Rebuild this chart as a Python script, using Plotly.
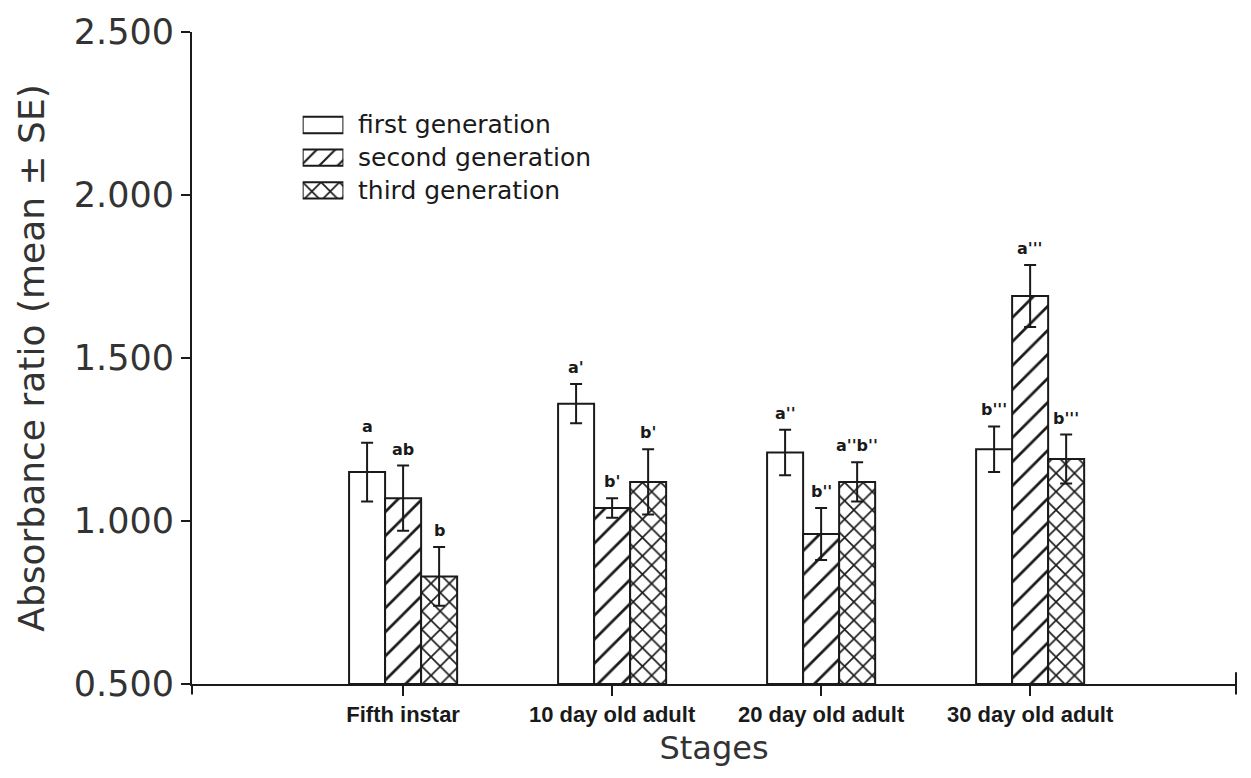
import plotly.graph_objects as go

# Developmental stages on the x axis
stages = ["Fifth instar", "10 day old adult", "20 day old adult", "30 day old adult"]

# Mean absorbance ratio and standard error per generation
first_gen = [1.15, 1.36, 1.21, 1.22]
first_se = [0.09, 0.06, 0.07, 0.07]
second_gen = [1.07, 1.04, 0.96, 1.69]
second_se = [0.10, 0.03, 0.08, 0.095]
third_gen = [0.83, 1.12, 1.12, 1.19]
third_se = [0.09, 0.10, 0.06, 0.075]

# Significance letters per bar
first_letters = ["a", "a'", "a''", "b'''"]
second_letters = ["ab", "b'", "b''", "a'''"]
third_letters = ["b", "b'", "a''b''", "b'''"]

BASE = 0.5

series = [
    ("first generation", first_gen, first_se, first_letters, "", 15, 0.2),
    ("second generation", second_gen, second_se, second_letters, "/", 17, 0.16),
    ("third generation", third_gen, third_se, third_letters, "x", 13, 0.24),
]

INK = "#1a1a1a"
FONT = "DejaVu Sans"


def bar_marker(shape, psize, psolid):
    return dict(
        color="white",
        line=dict(color=INK, width=2),
        pattern=dict(shape=shape, fgcolor=INK, bgcolor="white",
                     fgopacity=1, size=psize, solidity=psolid,
                     fillmode="replace"),
    )


fig = go.Figure()
for name, vals, se, letters, shape, psize, psolid in series:
    fig.add_trace(go.Bar(
        name=name,
        x=stages,
        y=[v - BASE for v in vals],
        base=BASE,
        error_y=dict(type="data", array=se, visible=True, color=INK,
                     thickness=2, width=6),
        marker=bar_marker(shape, psize, psolid),
        hovertext=letters,
        showlegend=False,
    ))

# Key: one wide patterned swatch per generation on a small inset axis
names = [s[0] for s in series]
for name, vals, se, letters, shape, psize, psolid in series:
    fig.add_trace(go.Bar(
        x=[1], y=[name], orientation="h",
        marker=bar_marker(shape, 13 if shape else psize, psolid),
        xaxis="x2", yaxis="y2", width=0.5, showlegend=False,
        hoverinfo="skip",
    ))
    fig.add_annotation(
        x=0.157, y=name, xref="paper", yref="y2", xanchor="left",
        text=name, showarrow=False,
        font=dict(family=FONT, size=25, color=INK),
    )

# Letters above each error bar
offsets = [-1, 0, 1]
bar_w = 0.172
for (name, vals, se, letters, *_), off in zip(series, offsets):
    for i, (v, e, lab) in enumerate(zip(vals, se, letters)):
        fig.add_annotation(
            x=i + off * bar_w, y=v + e, xref="x", yref="y",
            text=lab, showarrow=False, yanchor="bottom", yshift=5,
            font=dict(family=FONT, size=16, color=INK, weight="bold"),
        )

fig.update_layout(
    width=1251, height=778,
    margin=dict(l=192, r=15, t=25, b=94),
    paper_bgcolor="white", plot_bgcolor="white",
    barmode="group", bargap=0.483, bargroupgap=0,
    font=dict(family=FONT, color=INK),
    showlegend=False,
    xaxis=dict(
        type="category", range=[-1.01, 3.985],
        showline=True, linecolor=INK, linewidth=2,
        ticks="outside", ticklen=10, tickwidth=2, tickcolor=INK,
        tickfont=dict(family="Liberation Sans", size=22,
                      color=INK, weight="bold"),
        showgrid=False, zeroline=False,
        title=dict(text="Stages", font=dict(family=FONT, size=32, color="#333333"),
                   standoff=10),
    ),
    yaxis=dict(
        range=[0.5, 2.5], tickvals=[0.5, 1.0, 1.5, 2.0, 2.5],
        ticktext=["0.500", "1.000", "1.500", "2.000", "2.500"],
        showline=True, linecolor=INK, linewidth=2,
        ticks="outside", ticklen=9, tickwidth=2, tickcolor=INK,
        tickfont=dict(family=FONT, size=35, color="#333333"),
        showgrid=False, zeroline=False,
        title=dict(text="Absorbance ratio (mean ± SE)",
                   font=dict(family=FONT, size=36, color="#333333"), standoff=18),
    ),
    xaxis2=dict(domain=[0.106, 0.145], range=[0, 1], anchor="y2",
                visible=False, fixedrange=True),
    yaxis2=dict(domain=[0.7322, 0.8824], anchor="x2", type="category",
                categoryorder="array", categoryarray=names[::-1],
                range=[-0.5, 2.5], visible=False, fixedrange=True),
)

# Axis end marks: y axis running past the origin and the x axis end tick
fig.add_shape(type="line", xref="paper", yref="paper", x0=0, x1=0,
              y0=0, y1=-0.016, line=dict(color=INK, width=2))
fig.add_shape(type="line", xref="paper", yref="paper", x0=1, x1=1,
              y0=-0.016, y1=0.018, line=dict(color=INK, width=2))

fig.write_html("out.html")
